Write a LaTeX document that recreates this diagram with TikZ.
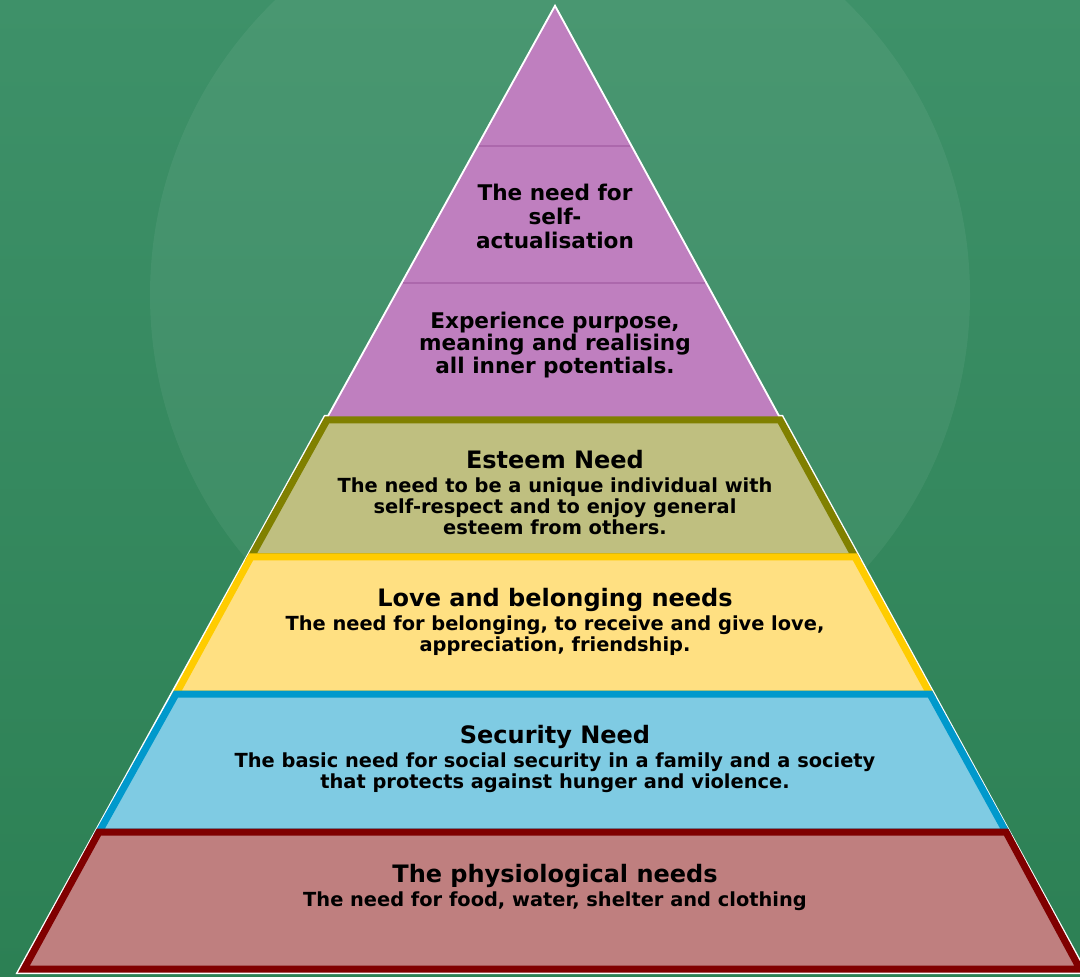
\documentclass[tikz,border=0pt]{standalone}
\usepackage{fontspec}
\setmainfont{DejaVu Sans}
\usetikzlibrary{positioning}
\definecolor{bgtop}{RGB}{62,145,105}
\definecolor{bgbottom}{RGB}{44,128,84}
\definecolor{purplefill}{RGB}{191,127,191}
\definecolor{purpleline}{RGB}{172,104,172}
\definecolor{esteemfill}{RGB}{191,191,128}
\definecolor{esteemline}{RGB}{128,128,0}
\definecolor{lovefill}{RGB}{255,224,130}
\definecolor{loveline}{RGB}{255,204,0}
\definecolor{securityfill}{RGB}{127,203,227}
\definecolor{securityline}{RGB}{0,153,204}
\definecolor{physiofill}{RGB}{191,127,127}
\definecolor{physioline}{RGB}{128,0,0}
\tikzstyle{band} = [line width=3.5pt, line join=miter]
\tikzstyle{bandtitle} = [inner sep=0pt, font=\bfseries\fontsize{12}{14}\selectfont, text height=9pt, text depth=2.5pt]
\tikzstyle{bandtext} = [inner sep=0pt, align=center, font=\bfseries\fontsize{9.7}{10.6}\selectfont]
\tikzstyle{toptext} = [inner sep=0pt, align=center, font=\bfseries\fontsize{10.8}{11.4}\selectfont]

\begin{document}
\begin{tikzpicture}[x=0.5pt, y=-0.5pt, node distance=1.5pt]
    % background
    \shade[top color=bgtop, bottom color=bgbottom] (0,0) rectangle (1080,977);
    \useasboundingbox (0,0) rectangle (1080,977);
    \fill[white, opacity=0.06] (560,295) circle [radius=205pt];
    % white rims
    \draw[white, line width=2pt] (555,8) -- (327,420) -- (780,420) -- cycle;
    \draw[white, line width=5pt] (327,420) -- (780,420) -- (1080,969) -- (24,969) -- cycle;
    % the levels
    \fill[purplefill] (555,8) -- (327,420) -- (780,420) -- cycle;
    \draw[purpleline, line width=0.6pt] (479,146) -- (630,146);
    \draw[purpleline, line width=0.6pt] (403,283) -- (705,283);
    \draw[band, draw=esteemline, fill=esteemfill] (327,420) -- (780,420) -- (855,557) -- (251,557) -- cycle;
    \draw[band, draw=loveline, fill=lovefill] (251,557) -- (855,557) -- (930,694) -- (176,694) -- cycle;
    \draw[band, draw=securityline, fill=securityfill] (176,694) -- (930,694) -- (1006,832) -- (99,832) -- cycle;
    \draw[band, draw=physioline, fill=physiofill] (99,832) -- (1006,832) -- (1080,969) -- (24,969) -- cycle;
    % texts
    \node (selfact) [toptext, font=\bfseries\fontsize{10.8}{12}\selectfont] at (555,216) {The need for\\self-\\actualisation};
    \node (purpose) [toptext] at (555,345) {Experience purpose,\\meaning and realising\\all inner potentials.};
    \node (esteem) [bandtitle] at (555,462) {Esteem Need};
    \node (esteemtxt) [bandtext, below=of esteem] {The need to be a unique individual with\\self-respect and to enjoy general\\esteem from others.};
    \node (love) [bandtitle] at (555,600) {Love and belonging needs};
    \node (lovetxt) [bandtext, below=of love] {The need for belonging, to receive and give love,\\appreciation, friendship.};
    \node (security) [bandtitle] at (555,737) {Security Need};
    \node (securitytxt) [bandtext, below=of security] {The basic need for social security in a family and a society\\that protects against hunger and violence.};
    \node (physio) [bandtitle] at (555,876) {The physiological needs};
    \node (physiotxt) [bandtext, below=of physio] {The need for food, water, shelter and clothing};
\end{tikzpicture}
\end{document}
